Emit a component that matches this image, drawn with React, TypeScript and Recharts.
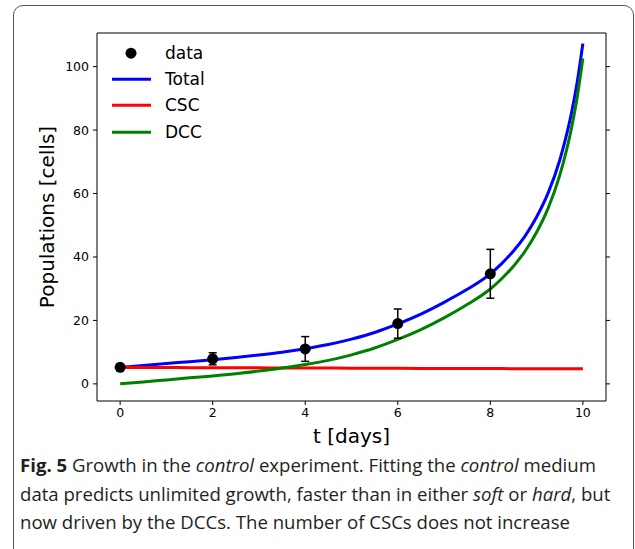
import React from 'react'
import {
  ComposedChart,
  Line,
  Scatter,
  ErrorBar,
  XAxis,
  YAxis,
  Legend,
  Label,
} from 'recharts'

// model curves
const curveT = [0, 0.5, 1, 1.5, 2, 2.5, 3, 3.5, 4, 4.5, 5, 5.5, 6, 6.5, 7, 7.5, 8, 8.25, 8.5, 8.75, 9, 9.25, 9.5, 9.625, 9.75, 9.875, 10]
const totalCells = [5.2, 5.8, 6.4, 7.0, 7.6, 8.3, 9.1, 10.0, 11.1, 12.4, 14.1, 16.2, 18.9, 22.0, 25.7, 29.8, 34.7, 38.0, 41.9, 46.6, 52.6, 60.2, 70.5, 77.2, 85.1, 94.9, 107.3]
const cscCells = [5.2, 5.17, 5.15, 5.12, 5.1, 5.07, 5.05, 5.02, 5.0, 4.97, 4.95, 4.92, 4.9, 4.88, 4.86, 4.84, 4.82, 4.81, 4.8, 4.79, 4.78, 4.77, 4.76, 4.76, 4.76, 4.75, 4.75]
const dccCells = [0, 0.6, 1.25, 1.9, 2.5, 3.2, 4.05, 5.0, 6.1, 7.4, 9.15, 11.3, 14.0, 17.1, 20.8, 25.0, 29.9, 33.2, 37.1, 41.8, 47.8, 55.4, 65.7, 72.4, 80.3, 90.1, 102.6]

// measurements with error bars
const obsT = [0, 2, 4, 6, 8]
const obsCells = [5.2, 7.9, 11.0, 19.0, 34.7]
const obsErr = [0.9, 1.9, 3.9, 4.6, 7.7]

const xTicks = [0, 2, 4, 6, 8, 10]
const yTicks = [0, 20, 40, 60, 80, 100]

const legendNames = ['data', 'Total', 'CSC', 'DCC']
const legendColors = ['#000000', '#0000ff', '#ff0000', '#008000']

const curve = curveT.map((t, i) => ({
  t,
  total: totalCells[i],
  csc: cscCells[i],
  dcc: dccCells[i],
}))
const obs = obsT.map((t, i) => ({ t, cells: obsCells[i], err: obsErr[i] }))

const FONT = 'DejaVu Sans'
const tickStyle = { fill: '#000', fontSize: 12.5, fontFamily: FONT }

const Dot = (p: any) => <circle cx={p.cx} cy={p.cy} r={5.5} fill="#000" />

const LegendBox = () => (
  <div style={{ fontFamily: FONT, fontSize: 17, color: '#000' }}>
    {legendNames.map((name, i) => (
      <div key={name} style={{ display: 'flex', alignItems: 'center', height: 26.4 }}>
        <svg width={42} height={26.4}>
          {i === 0 ? (
            <circle cx={21} cy={13.2} r={5.5} fill="#000" />
          ) : (
            <line x1={2} x2={41} y1={13.2} y2={13.2} stroke={legendColors[i]} strokeWidth={3} />
          )}
        </svg>
        <span style={{ marginLeft: 13, lineHeight: '26.4px' }}>{name}</span>
      </div>
    ))}
  </div>
)

const XLabel = (props: any) => {
  const vb = props.viewBox
  return (
    <text
      x={vb.x + vb.width / 2}
      y={vb.y + 35}
      textAnchor="middle"
      dominantBaseline="central"
      fontFamily={FONT}
      fontSize={20}
      fill="#000"
    >
      t [days]
    </text>
  )
}

const YLabel = (props: any) => {
  const vb = props.viewBox
  const cx = vb.x + 40
  const cy = vb.y + vb.height / 2
  return (
    <text
      x={cx}
      y={cy}
      transform={`rotate(-90 ${cx} ${cy})`}
      textAnchor="middle"
      dominantBaseline="central"
      fontFamily={FONT}
      fontSize={20}
      fill="#000"
    >
      Populations [cells]
    </text>
  )
}

export default function App() {
  return (
    <div style={{ position: 'relative', width: 635, height: 549, overflow: 'hidden', background: '#fff' }}>
      <style>{'body{margin:0;overflow:hidden}'}</style>
      <div
        style={{
          position: 'absolute',
          left: 13,
          top: 5,
          width: 621,
          height: 600,
          border: '1px solid #555',
          borderRadius: 10,
          boxSizing: 'border-box',
        }}
      />
      <div style={{ position: 'absolute', left: 0, top: 0 }}>
        <ComposedChart width={635} height={460} margin={{ top: 23, right: 19, bottom: 4, left: 7 }}>
          <XAxis
            xAxisId="top"
            orientation="top"
            type="number"
            domain={[-0.5, 10.5]}
            ticks={xTicks}
            height={10}
            tickSize={4}
            tickFormatter={() => ''}
            stroke="#000"
            allowDataOverflow
          />
          <XAxis
            dataKey="t"
            type="number"
            domain={[-0.5, 10.5]}
            ticks={xTicks}
            height={55}
            tickSize={4}
            tickMargin={3}
            stroke="#000"
            tick={tickStyle}
            allowDataOverflow
          >
            <Label content={<XLabel />} />
          </XAxis>
          <YAxis
            type="number"
            domain={[-5.4, 110.6]}
            ticks={yTicks}
            width={90}
            tickSize={4}
            tickMargin={4}
            stroke="#000"
            tick={tickStyle}
            allowDataOverflow
          >
            <Label content={<YLabel />} />
          </YAxis>
          <YAxis
            yAxisId="right"
            orientation="right"
            type="number"
            domain={[-5.4, 110.6]}
            ticks={yTicks}
            width={10}
            tickSize={4}
            tickFormatter={() => ''}
            stroke="#000"
            allowDataOverflow
          />
          <Line data={curve} dataKey="total" type="monotone" stroke="#0000ff" strokeWidth={3} dot={false} activeDot={false} isAnimationActive={false} />
          <Line data={curve} dataKey="csc" type="monotone" stroke="#ff0000" strokeWidth={3} dot={false} activeDot={false} isAnimationActive={false} />
          <Line data={curve} dataKey="dcc" type="monotone" stroke="#008000" strokeWidth={3} dot={false} activeDot={false} isAnimationActive={false} />
          <Scatter data={obs} dataKey="cells" shape={Dot} isAnimationActive={false}>
            <ErrorBar dataKey="err" direction="y" width={4} stroke="#000" strokeWidth={1.5} />
          </Scatter>
          <Legend
            layout="vertical"
            align="center"
            verticalAlign="middle"
            content={<LegendBox />}
            wrapperStyle={{ top: 39.5, left: 110, width: 'auto', height: 'auto' }}
          />
        </ComposedChart>
      </div>
      <div
        style={{
          position: 'absolute',
          left: 20,
          top: 451,
          fontFamily: 'Open Sans',
          fontSize: 18.6,
          lineHeight: '28.5px',
          color: '#231f20',
          whiteSpace: 'nowrap',
        }}
      >
        <b>Fig. 5</b> Growth in the <i>control</i> experiment. Fitting the <i>control</i> medium
        <br />
        data predicts unlimited growth, faster than in either <i>soft</i> or <i>hard</i>, but
        <br />
        now driven by the DCCs. The number of CSCs does not increase
      </div>
    </div>
  )
}
